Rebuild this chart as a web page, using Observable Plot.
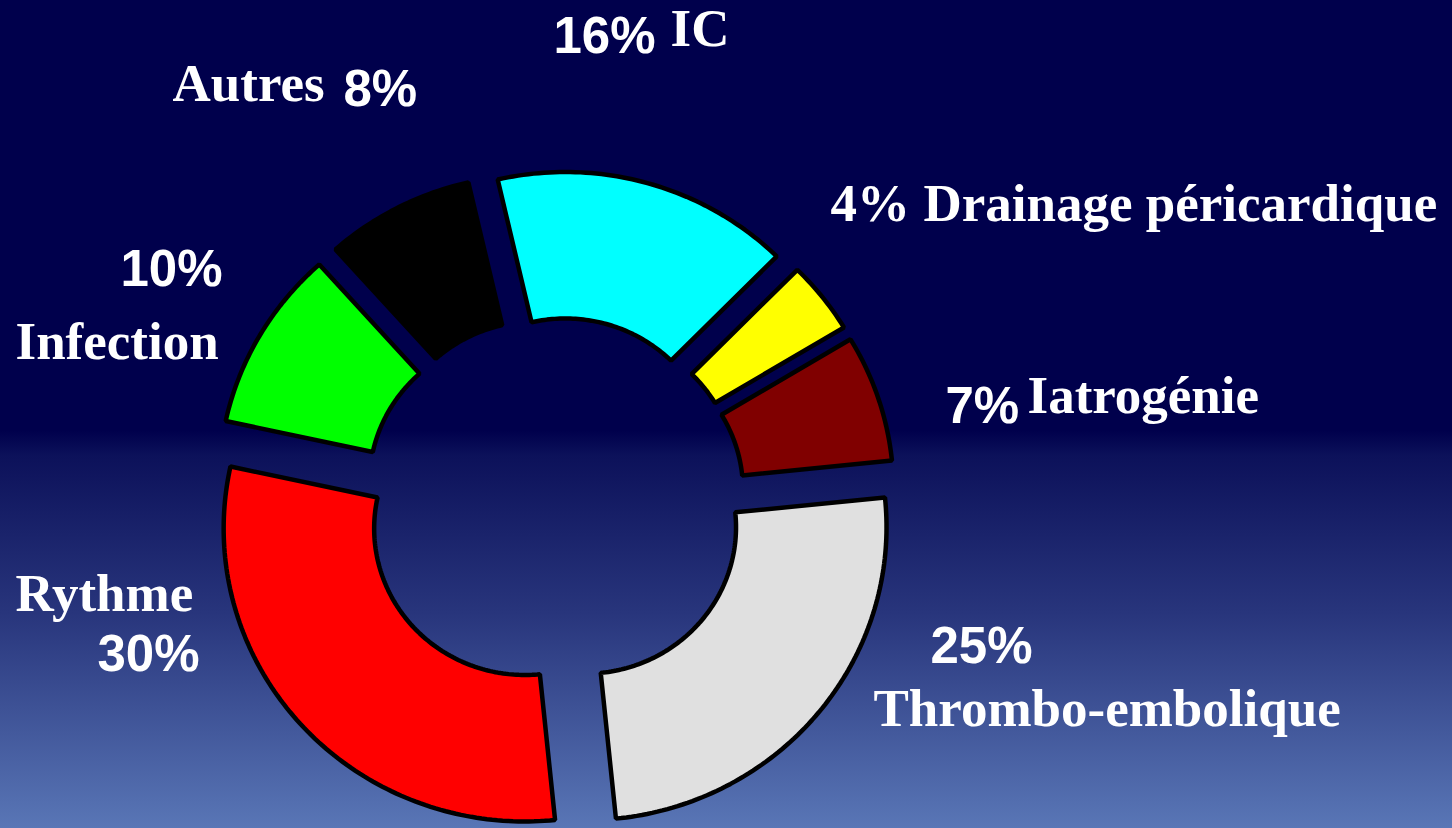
<!DOCTYPE html>
<html>
<head>
<meta charset="utf-8">
<script src="https://cdn.jsdelivr.net/npm/d3@7"></script>
<script src="https://cdn.jsdelivr.net/npm/@observablehq/plot@0.6"></script>
<style>
  html, body { margin: 0; padding: 0; background: #00004c; overflow: hidden; }
  #chart svg { display: block; }
</style>
</head>
<body>
<div id="chart"></div>
<script>
// ---- data ----
const categories = ["IC", "Drainage péricardique", "Iatrogénie", "Thrombo-embolique", "Rythme", "Infection", "Autres"];
const values = [16, 4, 7, 25, 30, 10, 8];
const pctLabels = ["16%", "4%", "7%", "25%", "30%", "10%", "8%"];
const colors = ["#00ffff", "#ffff00", "#800000", "#e0e0e0", "#ff0000", "#00ff00", "#000000"];

// ---- layout (pixels) ----
const W = 1452, H = 828;
const cx = 554, cy = 502;     // donut centre
const kx = 301, ky = 293;     // pixels per unit radius
const innerR = 0.5, outerR = 1, explode = 0.133;
const startAngle = -13;       // degrees, clockwise from top

// label anchors (left x, baseline y) in pixels
const nameAt = [[670, 45], [923, 220], [1027, 412], [873, 725], [15, 610], [15, 358], [172, 100]];
const pctAt  = [[553, 52], [830, 220], [945, 422], [930, 662], [97, 670], [120, 285], [343, 105]];
const pctSerif = [false, true, false, false, false, false, false];

// ---- geometry from data ----
const pie = d3.pie().sort(null).value(d => d)
  .startAngle(startAngle * Math.PI / 180)
  .endAngle((startAngle + 360) * Math.PI / 180);
const arcs = pie(values);

function slicePoints(a, i) {
  const mid = (a.startAngle + a.endAngle) / 2;
  const ox = explode * Math.sin(mid), oy = explode * Math.cos(mid);
  const n = Math.max(8, Math.ceil((a.endAngle - a.startAngle) * 180 / Math.PI));
  const pts = [];
  for (let k = 0; k <= n; k++) {
    const t = a.startAngle + (a.endAngle - a.startAngle) * k / n;
    pts.push({x: ox + outerR * Math.sin(t), y: oy + outerR * Math.cos(t), cat: categories[i]});
  }
  for (let k = n; k >= 0; k--) {
    const t = a.startAngle + (a.endAngle - a.startAngle) * k / n;
    pts.push({x: ox + innerR * Math.sin(t), y: oy + innerR * Math.cos(t), cat: categories[i]});
  }
  return pts;
}

const toX = px => (px - cx) / kx;
const toY = py => (cy - py) / ky;

const nameLabels = categories.map((c, i) => ({text: c, x: toX(nameAt[i][0]), y: toY(nameAt[i][1])}));
const pctTexts = pctLabels.map((p, i) => ({text: p, x: toX(pctAt[i][0]), y: toY(pctAt[i][1]), serif: pctSerif[i]}));

const serif = "'Liberation Serif', 'Times New Roman', serif";
const sans = "'Liberation Sans', Arial, sans-serif";

const sliceMarks = arcs.map((a, i) => Plot.line(slicePoints(a, i), {
  x: "x", y: "y", fill: colors[i], stroke: "#000000", strokeWidth: 4.5,
  strokeLinejoin: "miter", curve: "linear-closed"
}));

const chart = Plot.plot({
  width: W,
  height: H,
  margin: 0,
  x: {domain: [toX(0), toX(W)], axis: null},
  y: {domain: [toY(H), toY(0)], axis: null},
  style: {
    background: "linear-gradient(to bottom, #00004c 0%, #00004c 52%, #0c115a 55%, #28357c 74%, #5976b6 100%)",
    color: "white"
  },
  marks: [
    ...sliceMarks,
    Plot.text(nameLabels, {x: "x", y: "y", text: "text", textAnchor: "start", lineAnchor: "bottom",
      fill: "white", fontFamily: serif, fontWeight: "bold", fontSize: 53}),
    Plot.text(pctTexts.filter(d => !d.serif), {x: "x", y: "y", text: "text", textAnchor: "start", lineAnchor: "bottom",
      fill: "white", fontFamily: sans, fontWeight: "bold", fontSize: 51}),
    Plot.text(pctTexts.filter(d => d.serif), {x: "x", y: "y", text: "text", textAnchor: "start", lineAnchor: "bottom",
      fill: "white", fontFamily: serif, fontWeight: "bold", fontSize: 53})
  ]
});
document.getElementById("chart").appendChild(chart);
</script>
</body>
</html>
